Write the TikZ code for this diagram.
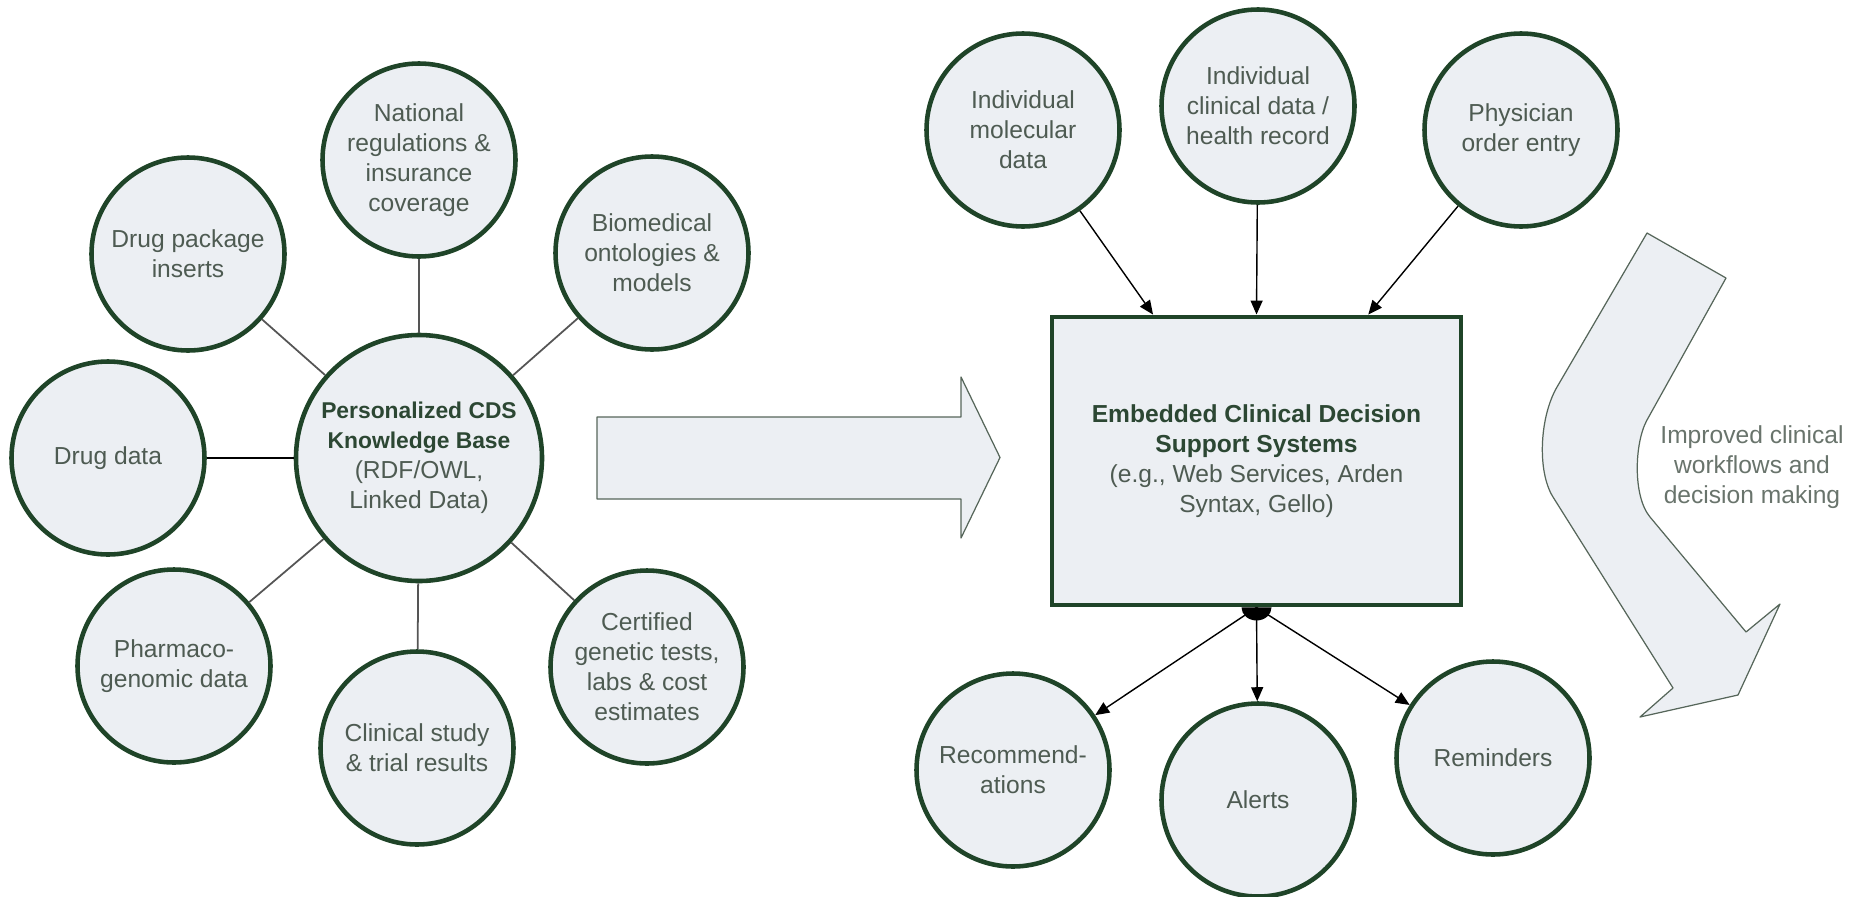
\documentclass[tikz,border=0pt]{standalone}
\usepackage{fontspec}
\setmainfont{Liberation Sans}
\usetikzlibrary{arrows.meta, positioning, calc}
\definecolor{ringgreen}{HTML}{1F4428}
\definecolor{bubblefill}{HTML}{ECEFF3}
\definecolor{labelgray}{HTML}{4E5B52}
\definecolor{titlegreen}{HTML}{2C4733}
\definecolor{linkgray}{HTML}{555555}
\definecolor{outline}{HTML}{56665A}
\newcommand{\boldtxt}[2][13]{{\fontsize{#1}{17}\selectfont\bfseries\color{titlegreen}#2}}

\begin{document}
\begin{tikzpicture}[
    every node/.style={font=\fontsize{14}{17}\selectfont, text=labelgray},
    src/.style={circle, draw=ringgreen, line width=2.6pt, fill=bubblefill,
                minimum size=3.86cm, inner sep=0pt, align=center},
    core/.style={src, minimum size=4.92cm},
    sys/.style={draw=ringgreen, line width=2.8pt, fill=bubblefill,
                minimum width=8.18cm, minimum height=5.76cm, align=center},
    link/.style={draw=linkgray, line width=1pt},
    arr/.style={-{Triangle[length=2.8mm, width=2.4mm]}, line width=0.8pt},
    flowarrow/.style={draw=outline, line width=0.7pt, fill=bubblefill, line join=round}
]
    \useasboundingbox (0, 0) rectangle (37.12, -17.92);

    % Knowledge base with its sources
    \node[core] (kb) at (8.38, -9.16) {\boldtxt{Personalized CDS}\\\boldtxt{Knowledge Base}\\(RDF/OWL,\\Linked Data)};

    \node[src] (nat)  at ( 8.38,  -3.20) {National\\regulations \&\\insurance\\coverage};
    \node[src] (dpi)  at ( 3.76,  -5.08) {Drug package\\inserts};
    \node[src] (bio)  at (13.04,  -5.06) {Biomedical\\ontologies \&\\models};
    \node[src] (dd)   at ( 2.16,  -9.16) {Drug data};
    \node[src] (pgx)  at ( 3.48, -13.32) {Pharmaco-\\genomic data};
    \node[src] (cst)  at ( 8.34, -14.96) {Clinical study\\\& trial results};
    \node[src] (cert) at (12.94, -13.34) {Certified\\genetic tests,\\labs \& cost\\estimates};

    \draw[link] (kb) -- (nat);
    \draw[link] (kb) -- (dpi);
    \draw[link] (kb) -- (bio);
    \draw[link, draw=black] (kb) -- (dd);
    \draw[link] (kb) -- (pgx);
    \draw[link] (kb) -- (cst);
    \draw[link] (kb) -- (cert);

    % Big arrow towards the CDS systems
    \draw[flowarrow] (11.94, -8.34) -- (19.22, -8.34) -- (19.22, -7.54) -- (20.00, -9.15)
        -- (19.22, -10.76) -- (19.22, -9.98) -- (11.94, -9.98) -- cycle;

    % Embedded CDS with inputs and outputs
    \node[sys] (cds) at (25.13, -9.22) {\boldtxt[14]{Embedded Clinical Decision}\\\boldtxt[14]{Support Systems}\\(e.g., Web Services, Arden\\Syntax, Gello)};

    \node[src] (mol)  at (20.46,  -2.60) {Individual\\molecular\\data};
    \node[src] (ehr)  at (25.16,  -2.12) {Individual\\clinical data /\\health record};
    \node[src] (cpoe) at (30.42,  -2.60) {Physician\\order entry};

    \node[src] (rec)  at (20.26, -15.40) {Recommend-\\ations};
    \node[src] (alr)  at (25.16, -16.00) {Alerts};
    \node[src] (rem)  at (29.86, -15.16) {Reminders};

    \coordinate (in1) at ($(cds.north west)!0.25!(cds.north east)$);
    \coordinate (in3) at ($(cds.north west)!0.77!(cds.north east)$);
    \coordinate (hub) at (cds.south);

    \draw[arr] (mol)  -- (in1);
    \draw[arr] (ehr)  -- (cds.north);
    \draw[arr] (cpoe) -- (in3);

    \draw[arr] (hub) -- (rec);
    \draw[arr] (hub) -- (alr);
    \draw[arr] (hub) -- (rem);
    \fill[black] (hub) ++(-0.3, 0) arc[start angle=180, end angle=360, x radius=0.3, y radius=0.26] -- cycle;

    % Bent arrow on the right
    \draw[flowarrow] (32.94, -4.66) -- (31.14, -7.74)
        .. controls (30.79, -8.34) and (30.74, -9.43) .. (31.06, -9.94)
        -- (33.46, -13.76) -- (32.80, -14.34) -- (34.76, -13.90) -- (35.60, -12.08)
        -- (34.92, -12.64) -- (33.00, -10.34)
        .. controls (32.65, -9.92) and (32.69, -8.85) .. (32.94, -8.40)
        -- (34.52, -5.56) -- cycle;
    \node[align=center, text=labelgray!85] (imp) at (35.04, -9.34) {Improved clinical\\workflows and\\decision making};
\end{tikzpicture}
\end{document}
